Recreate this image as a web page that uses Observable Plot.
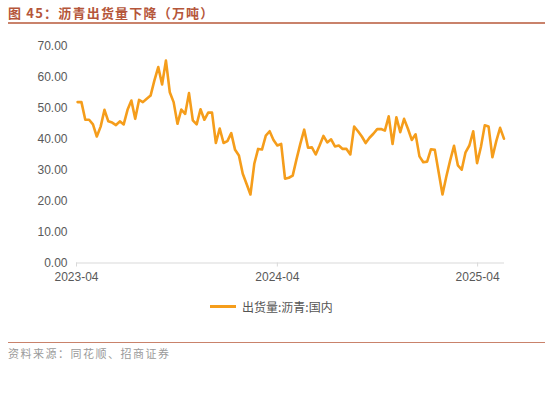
<!DOCTYPE html>
<html><head><meta charset="utf-8">
<script src="https://cdn.jsdelivr.net/npm/d3@7"></script>
<script src="https://cdn.jsdelivr.net/npm/@observablehq/plot@0.6"></script>
<style>
html,body{margin:0;padding:0;background:#fff;}
#wrap{position:relative;width:550px;height:394px;overflow:hidden;font-family:"Liberation Sans",Arial,sans-serif;}
#title{position:absolute;left:8px;top:3px;font-family:"Noto Sans CJK SC",sans-serif;font-weight:700;font-size:13px;letter-spacing:1.2px;color:#b5563a;white-space:nowrap;}
#tline{position:absolute;left:8px;top:22px;width:537px;height:2px;background:#c9826b;}
#chart{position:absolute;left:0;top:0;}
#legend{position:absolute;left:210px;top:297px;height:18px;display:flex;align-items:center;font-family:"Noto Sans CJK SC",sans-serif;font-size:12px;color:#555;white-space:nowrap;}
#legend .sw{width:26px;height:3px;background:#f59d1b;margin-right:6px;}
#bline{position:absolute;left:8px;top:342px;width:537px;height:1px;background:#c9826b;}
#source{position:absolute;left:8px;top:345px;font-family:"Noto Sans CJK SC",sans-serif;font-size:11px;letter-spacing:1.5px;color:#9a9a9a;white-space:nowrap;}
</style></head>
<body><div id="wrap">
<div id="chart"></div>
<div id="title">图 45：沥青出货量下降（万吨）</div>
<div id="tline"></div>
<div id="legend"><div class="sw"></div><span>出货量:沥青:国内</span></div>
<div id="bline"></div>
<div id="source">资料来源：同花顺、招商证券</div>
</div>
<script>
const seriesName = "出货量:沥青:国内";
const startDate = "2023-04-03";
const values = [
51.9,51.9,46.2,46.2,44.7,40.8,44.0,49.4,45.7,45.3,
44.5,45.7,44.7,49.4,52.4,46.5,52.6,51.9,53.0,54.0,
58.9,63.2,57.6,65.3,55.1,51.9,44.9,49.5,48.1,54.8,
46.0,44.7,49.6,46.2,48.5,48.5,38.7,43.4,38.7,39.3,
41.9,36.5,34.7,28.8,25.5,22.1,32.0,36.8,36.6,41.1,
42.5,39.7,37.9,38.4,27.2,27.5,28.2,33.5,38.5,43.0,
37.2,37.3,35.0,37.9,41.0,38.9,39.9,37.6,37.9,36.8,
36.8,35.0,44.0,42.5,40.8,38.7,40.4,41.7,43.2,43.2,
42.7,47.3,38.4,47.0,42.2,46.5,43.3,39.7,41.5,34.4,
32.5,32.7,36.7,36.5,29.3,22.1,27.9,33.1,37.8,31.5,
30.1,35.7,37.9,42.5,32.2,37.4,44.4,44.0,34.1,39.3,
43.6,40.1
];
const xTicks = ["2023-04-01","2024-04-01","2025-04-01"];
const yTicks = [0,10,20,30,40,50,60,70];
const xDomain = ["2023-04-01","2025-05-20"];

const start = new Date(startDate + "T00:00:00Z");
const data = values.map((v,i)=>({date: d3.utcDay.offset(start, 7*i), value: v}));

const chart = Plot.plot({
  width: 550,
  height: 300,
  marginLeft: 76,
  marginRight: 46,
  marginTop: 45.5,
  marginBottom: 37.5,
  style: {fontFamily: "'Liberation Sans', Arial, sans-serif", fontSize: "12px", color: "#595959", background: "transparent"},
  x: {type: "utc", domain: xDomain.map(d=>new Date(d+"T00:00:00Z"))},
  y: {domain: [0,70]},
  marks: [
    Plot.ruleY([0], {stroke: "#d9d9d9", strokeWidth: 1}),
    Plot.axisY({ticks: yTicks, tickFormat: d=>d.toFixed(2), tickSize: 0, tickPadding: 9, label: null, fontSize: 12}),
    Plot.axisX({ticks: xTicks.map(d=>new Date(d+"T00:00:00Z")), tickFormat: d3.utcFormat("%Y-%m"), tickSize: 4, tickPadding: 5, stroke: "#d9d9d9", label: null, fontSize: 12}),
    Plot.lineY(data, {x: "date", y: "value", stroke: "#f59d1b", strokeWidth: 2.6, strokeLinejoin: "round"})
  ]
});
document.getElementById("chart").appendChild(chart);
</script>
</body></html>
